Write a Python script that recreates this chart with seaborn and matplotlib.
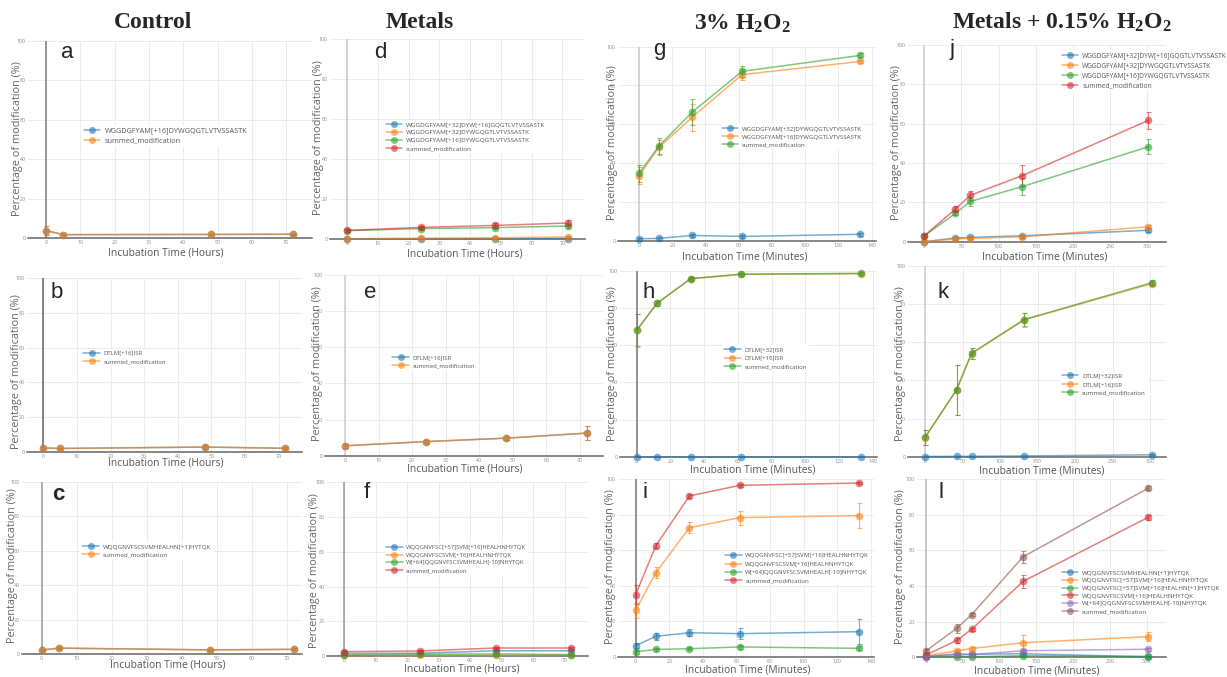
import numpy as np
import pandas as pd
import matplotlib
matplotlib.use('Agg')
import matplotlib.pyplot as plt
from matplotlib.lines import Line2D
import seaborn as sns

sns.set_style('white')
plt.rcParams['font.family'] = ['Open Sans', 'DejaVu Sans']
plt.rcParams['mathtext.fontset'] = 'custom'
plt.rcParams['mathtext.rm'] = 'Liberation Serif:bold'
plt.rcParams['mathtext.default'] = 'rm'

W, H = 1227, 677

# ---- data ----
HOURS_CTRL = [0, 5, 48, 72]
HOURS_MET = [0, 24, 48, 72]
MIN_H2O2 = [0, 12, 32, 62, 133]
MIN_MIX = [0, 42, 62, 132, 302]

WGG_NAMES_1 = ['WGGDGFYAM[+16]DYWGQGTLVTVSSASTK', 'summed_modification']
WGG_NAMES_3 = ['WGGDGFYAM[+32]DYWGQGTLVTVSSASTK', 'WGGDGFYAM[+16]DYWGQGTLVTVSSASTK',
               'summed_modification']
WGG_NAMES_4 = ['WGGDGFYAM[+32]DYW[+16]GQGTLVTVSSASTK', 'WGGDGFYAM[+32]DYWGQGTLVTVSSASTK',
               'WGGDGFYAM[+16]DYWGQGTLVTVSSASTK', 'summed_modification']
DTLM_NAMES_1 = ['DTLM[+16]ISR', 'summed_modification']
DTLM_NAMES_2 = ['DTLM[+32]ISR', 'DTLM[+16]ISR', 'summed_modification']
WQQ_NAMES_1 = ['WQQGNVFSCSVMHEALHN[+1]HYTQK', 'summed_modification']
WQQ_NAMES_4 = ['WQQGNVFSC[+57]SVM[+16]HEALHNHYTQK', 'WQQGNVFSCSVM[+16]HEALHNHYTQK',
               'W[+64]QQGNVFSCSVMHEALH[-10]NHYTQK', 'summed_modification']
WQQ_NAMES_6 = ['WQQGNVFSCSVMHEALHN[+1]HYTQK', 'WQQGNVFSC[+57]SVM[+16]HEALHNHYTQK',
               'WQQGNVFSC[+57]SVM[+16]HEALHN[+1]HYTQK', 'WQQGNVFSCSVM[+16]HEALHNHYTQK',
               'W[+64]QQGNVFSCSVMHEALH[-10]NHYTQK', 'summed_modification']

A_MEAN = [[3.8, 1.7, 1.8, 1.9], [3.8, 1.7, 1.8, 1.9]]
A_ERR = [[2.5, 0.3, 0.4, 0.3], [2.5, 0.3, 0.4, 0.3]]
B_MEAN = [[2.5, 2.2, 3.0, 2.3], [2.5, 2.2, 3.0, 2.3]]
B_ERR = [[0.8, 0.5, 1.2, 0.5], [0.8, 0.5, 1.2, 0.5]]
C_MEAN = [[2.3, 3.4, 2.4, 2.7], [2.3, 3.4, 2.4, 2.7]]
C_ERR = [[0.5, 0.6, 0.5, 0.5], [0.5, 0.6, 0.5, 0.5]]

D_MEAN = [[0.0, 0.1, 0.1, 0.2], [0.1, 0.4, 0.6, 1.0],
          [4.2, 5.2, 5.7, 6.5], [4.3, 5.8, 6.8, 8.0]]
D_ERR = [[0.1, 0.1, 0.1, 0.1], [0.2, 0.3, 0.4, 0.6],
         [0.6, 0.6, 0.8, 1.0], [0.6, 0.8, 1.2, 1.6]]
E_MEAN = [[5.5, 7.8, 9.7, 12.5], [5.5, 7.8, 9.7, 12.5]]
E_ERR = [[1.0, 1.0, 1.0, 4.0], [1.0, 1.0, 1.0, 4.0]]
F_MEAN = [[1.5, 1.6, 3.0, 3.0], [0.3, 0.3, 0.4, 0.5],
          [0.6, 1.0, 1.2, 0.8], [2.5, 2.9, 4.6, 4.6]]
F_ERR = [[0.4, 0.4, 0.5, 0.5], [0.2, 0.2, 0.2, 0.2],
         [0.2, 0.3, 0.3, 0.3], [0.5, 0.5, 0.6, 0.6]]

G_MEAN = [[1.0, 1.2, 2.7, 2.2, 3.3], [33.5, 48.1, 63.6, 85.6, 92.4],
          [34.7, 48.8, 66.3, 87.3, 95.5]]
G_ERR = [[0.5, 0.6, 0.8, 0.6, 0.8], [4.5, 4.0, 6.8, 3.0, 1.0],
         [4.5, 4.0, 6.7, 3.0, 1.0]]
H_MEAN = [[0.1, 0.1, 0.1, 0.1, 0.1], [68.0, 82.5, 95.8, 98.2, 98.6],
          [68.1, 82.6, 95.9, 98.3, 98.7]]
H_ERR = [[0.1, 0.1, 0.1, 0.1, 0.1], [8.7, 1.2, 1.0, 0.8, 0.6],
         [8.7, 1.2, 1.0, 0.8, 0.6]]
I_MEAN = [[6.2, 11.5, 13.5, 13.0, 14.1], [26.1, 47.4, 72.7, 78.4, 79.5],
          [2.8, 4.1, 4.5, 5.5, 4.7], [35.0, 62.6, 90.6, 96.6, 97.9]]
I_ERR = [[1.5, 2.0, 2.0, 3.0, 7.0], [4.3, 3.0, 3.0, 4.0, 7.2],
         [1.0, 0.8, 0.8, 1.0, 1.2], [5.5, 1.5, 1.0, 0.8, 0.6]]

J_MEAN = [[0.0, 1.9, 2.2, 3.0, 5.8], [0.0, 1.4, 1.7, 2.5, 7.6],
          [3.0, 14.4, 20.5, 28.0, 48.3], [3.0, 16.6, 23.6, 33.6, 61.7]]
J_ERR = [[0.2, 0.4, 0.5, 0.6, 1.0], [0.2, 0.4, 0.5, 0.6, 1.0],
         [0.8, 1.0, 2.3, 4.4, 3.8], [0.8, 1.5, 2.3, 5.5, 4.4]]
K_MEAN = [[0.1, 0.2, 0.2, 0.4, 1.0], [10.0, 35.0, 54.0, 71.7, 90.7],
          [10.1, 35.1, 54.2, 71.9, 91.2]]
K_ERR = [[0.1, 0.1, 0.1, 0.2, 0.3], [3.8, 13.0, 3.0, 3.5, 1.2],
         [3.8, 13.0, 3.0, 3.5, 1.2]]
L_MEAN = [[0.6, 1.9, 1.7, 2.0, 0.2], [0.9, 3.6, 4.9, 8.2, 11.6],
          [0.1, 0.3, 0.3, 0.9, 0.5], [1.3, 9.5, 15.7, 42.6, 78.5],
          [0.4, 1.3, 1.5, 3.7, 4.5], [3.6, 16.3, 23.9, 56.4, 94.8]]
L_ERR = [[0.3, 0.5, 0.5, 0.5, 0.3], [0.4, 1.0, 1.0, 4.2, 2.5],
         [0.1, 0.2, 0.2, 0.3, 0.3], [0.5, 1.5, 1.0, 3.6, 1.5],
         [0.2, 0.4, 0.4, 0.8, 0.8], [0.8, 2.5, 1.0, 3.3, 1.0]]

COLUMN_TITLES = ['Control', 'Metals', '3% H$_2$O$_2$', 'Metals + 0.15% H$_2$O$_2$']
XLAB_H = 'Incubation Time (Hours)'
XLAB_M = 'Incubation Time (Minutes)'
YLAB = 'Percentage of modification (%)'

PAL = sns.color_palette('tab10', 6)

# ---- layout in pixels of the original screenshot ----
# box = axis-line left/right, y(100), y(0); xmap = px of two data values
panels = [
    dict(tag='a', t=HOURS_CTRL, names=WGG_NAMES_1, mean=A_MEAN, err=A_ERR,
         box=(28, 312, 40.7, 238), xmap=(46, 293, 0, 72), ticks=range(0, 71, 10),
         leg=(92, 131.7, 5.2, 11.6), letter=(67, 53), xl=(166, 253, XLAB_H), yl=(18, 139),
         zero='#7a7a7a'),
    dict(tag='d', t=HOURS_MET, names=WGG_NAMES_4, mean=D_MEAN, err=D_ERR,
         box=(330, 585, 39.3, 239), xmap=(347.3, 562.3, 0, 70), ticks=range(0, 71, 10),
         leg=(394, 126, 4.6, 10), letter=(380, 53), xl=(465, 254, XLAB_H), yl=(319, 138),
         zero='#c6ccd6'),
    dict(tag='g', t=MIN_H2O2, names=WGG_NAMES_3, mean=G_MEAN, err=G_ERR,
         box=(618, 876, 46.7, 240.7), xmap=(639, 871.7, 0, 140), ticks=range(0, 141, 20),
         leg=(730, 130, 4.45, 10), letter=(659, 50), xl=(745, 257, XLAB_M), yl=(612, 143),
         zero='#cccccc'),
    dict(tag='j', t=MIN_MIX, names=WGG_NAMES_4, mean=J_MEAN, err=J_ERR,
         box=(908, 1165.7, 45, 241.7), xmap=(924.3, 1147, 0, 300), ticks=range(0, 301, 50),
         leg=(1070, 56, 4.8, 11), letter=(952, 49), xl=(1045, 257, XLAB_M), yl=(897, 143),
         zero='#cccccc'),
    dict(tag='b', t=HOURS_CTRL, names=DTLM_NAMES_1, mean=B_MEAN, err=B_ERR,
         box=(27, 302, 277.7, 452.3), xmap=(43.3, 278.7, 0, 70), ticks=range(0, 71, 10),
         leg=(91.7, 354, 4.3, 10.7), letter=(57, 292), xl=(166, 463, XLAB_H), yl=(17, 372),
         zero='#666666'),
    dict(tag='e', t=HOURS_MET, names=DTLM_NAMES_1, mean=E_MEAN, err=E_ERR,
         box=(325, 603, 275, 455.7), xmap=(345, 580, 0, 70), ticks=range(0, 71, 10),
         leg=(400.7, 358.3, 4.3, 10), letter=(370, 292), xl=(465, 469, XLAB_H), yl=(318, 364),
         zero='#c8d0da'),
    dict(tag='h', t=MIN_H2O2, names=DTLM_NAMES_2, mean=H_MEAN, err=H_ERR,
         box=(620, 876.7, 271, 456.7), xmap=(636.7, 872.7, 0, 140), ticks=range(0, 141, 20),
         leg=(732.3, 350.7, 4.3, 10.3), letter=(649, 292), xl=(753, 470, XLAB_M), yl=(613, 364),
         zero='#777777'),
    dict(tag='k', t=MIN_MIX, names=DTLM_NAMES_2, mean=K_MEAN, err=K_ERR,
         box=(908, 1165.7, 266, 456.7), xmap=(925, 1150, 0, 300), ticks=range(0, 301, 50),
         leg=(1070, 377, 4.4, 10.5), letter=(943, 292), xl=(1042, 471, XLAB_M), yl=(900, 364),
         zero='#cccccc'),
    dict(tag='c', t=HOURS_CTRL, names=WQQ_NAMES_1, mean=C_MEAN, err=C_ERR,
         box=(21.7, 301.7, 481.7, 654), xmap=(41.7, 286.7, 0, 70), ticks=range(0, 71, 10),
         leg=(90.7, 548, 4.5, 9.7), letter=(58, 494), xl=(168, 665, XLAB_H), yl=(13, 566),
         zero='#999999', bold=True),
    dict(tag='f', t=HOURS_MET, names=WQQ_NAMES_4, mean=F_MEAN, err=F_ERR,
         box=(326.7, 588.3, 482.3, 656), xmap=(344.3, 565, 0, 70), ticks=range(0, 71, 10),
         leg=(394.3, 548.3, 4.2, 9.7), letter=(367, 492), xl=(462, 669, XLAB_H), yl=(315, 571),
         zero='#999999'),
    dict(tag='i', t=MIN_H2O2, names=WQQ_NAMES_4, mean=I_MEAN, err=I_ERR,
         box=(618, 874, 479.3, 656.7), xmap=(635.7, 870.7, 0, 140), ticks=range(0, 141, 20),
         leg=(733.3, 556.7, 4.4, 10.4), letter=(645, 493), xl=(748, 670, XLAB_M), yl=(610, 567),
         zero='#777777'),
    dict(tag='l', t=MIN_MIX, names=WQQ_NAMES_6, mean=L_MEAN, err=L_ERR,
         box=(916.7, 1165.7, 479, 657.3), xmap=(926, 1146.7, 0, 300), ticks=range(0, 301, 50),
         leg=(1070, 574, 4.5, 9.8), letter=(941, 492), xl=(1037, 671, XLAB_M), yl=(900, 567),
         zero='#bbbbbb'),
]

fig = plt.figure(figsize=(W / 100, H / 100), dpi=100)


def fx(x):
    return x / W


def fy(y):
    return 1 - y / H


def draw_panel(p):
    L, R, top, bottom = p['box']
    ax = fig.add_axes([fx(L), fy(bottom), (R - L) / W, (bottom - top) / H])
    px0, px1, d0, d1 = p['xmap']
    s = (px1 - px0) / (d1 - d0)
    ax.set_xlim(d0 + (L - px0) / s, d0 + (R - px0) / s)

    colors = PAL[:len(p['names'])]
    rows = []
    for name, mean in zip(p['names'], p['mean']):
        for t, v in zip(p['t'], mean):
            rows.append((t, v, name))
    df = pd.DataFrame(rows, columns=['time', 'pct', 'series'])

    for mean, err, c in zip(p['mean'], p['err'], colors):
        ax.errorbar(p['t'], mean, yerr=err, fmt='none', ecolor=c, alpha=0.6,
                    elinewidth=0.8, capsize=1.8, capthick=0.8, zorder=2, clip_on=False)
    sns.lineplot(data=df, x='time', y='pct', hue='series', hue_order=p['names'],
                 palette=colors, marker='o', markersize=5.5, markeredgewidth=0,
                 linewidth=1.1, alpha=0.6, errorbar=None, legend=False, ax=ax,
                 clip_on=False, zorder=3)
    ax.set_ylim(0, 100)
    ax.set_xlabel(''); ax.set_ylabel('')
    ax.set_xticks(list(p['ticks']))
    ax.set_yticks(range(0, 101, 20))
    ax.tick_params(length=0, labelsize=3.8, labelcolor='#888888', pad=1.5)
    ax.grid(True, color='#ececec', lw=0.7)
    ax.set_axisbelow(True)
    for sp in ['top', 'right', 'left']:
        ax.spines[sp].set_visible(False)
    ax.spines['bottom'].set_color('#666666')
    ax.spines['bottom'].set_linewidth(1.1)
    ax.axvline(0, color=p['zero'], lw=1.1, zorder=1.5)

    # legend, anchored by the first marker centre
    mx, my, fs, rs = p['leg']
    hl = 12.0  # handle length in points
    bp = 0.3
    handles = [Line2D([0], [0], color=c, alpha=0.6, lw=1.1, marker='o',
                      markersize=5, markeredgewidth=0) for c in colors]
    left = mx - (hl / 2 + bp * fs) / 0.72
    topy = my - (0.6 * fs + bp * fs) / 0.72
    ax.legend(handles, p['names'], loc='upper left',
              bbox_to_anchor=(fx(left), fy(topy)), bbox_transform=fig.transFigure,
              fontsize=fs, frameon=True, facecolor='white', edgecolor='none',
              framealpha=1, handlelength=hl / fs, handletextpad=0.6,
              borderpad=bp, borderaxespad=0,
              labelspacing=max(0.1, (rs * 0.72 - 1.2 * fs) / fs),
              labelcolor='#555555')

    fig.text(fx(p['letter'][0]), fy(p['letter'][1]), p['tag'], fontsize=16,
             family='Liberation Sans', weight='bold' if p.get('bold') else 'normal',
             ha='center', va='center')
    fig.text(fx(p['xl'][0]), fy(p['xl'][1]), p['xl'][2], fontsize=7.4,
             color='#555555', ha='center', va='center')
    fig.text(fx(p['yl'][0]), fy(p['yl'][1]), YLAB, fontsize=7.8, rotation=90,
             color='#666666', ha='center', va='center')


for p in panels:
    draw_panel(p)

for title, x, y in zip(COLUMN_TITLES, [153, 420, 742, 1062], [22, 22, 24, 22]):
    fig.text(fx(x), fy(y), title, fontsize=17, family='Liberation Serif',
             weight='bold', ha='center', va='center')

fig.savefig('out.png', dpi=100)
